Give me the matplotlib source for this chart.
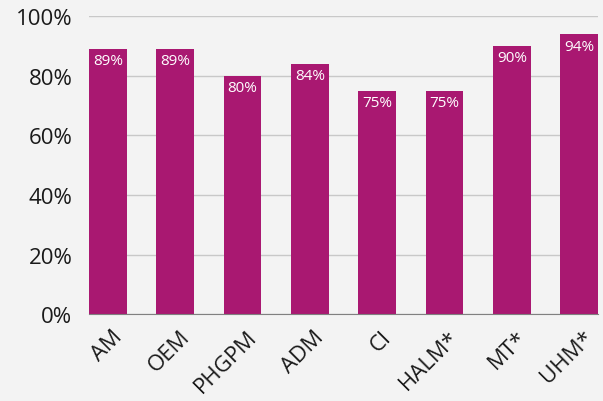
import matplotlib.pyplot as plt
from matplotlib.ticker import FuncFormatter
from matplotlib.transforms import ScaledTranslation

plt.rcParams['font.family'] = ['Open Sans', 'DejaVu Sans']

categories = ["AM", "OEM", "PHGPM", "ADM", "CI", "HALM*", "MT*", "UHM*"]
values = [89, 89, 80, 84, 75, 75, 90, 94]

bg = "#f3f3f3"
bar_color = "#a91871"

fig = plt.figure(figsize=(6.03, 4.02), dpi=100, facecolor=bg)
ax = fig.add_axes([0.1476, 0.2164, 0.8441, 0.7401], facecolor=bg)

x = range(len(categories))
bars = ax.bar(x, values, width=0.557, color=bar_color, zorder=3)

for rect, v in zip(bars, values):
    ax.annotate(f"{v}%", (rect.get_x() + rect.get_width() / 2, rect.get_height()),
                xytext=(0, -3), textcoords="offset points",
                ha="center", va="top", color="white", fontsize=11, zorder=4)

ax.set_ylim(0, 100)
ax.set_xlim(-0.2785, len(categories) - 1 + 0.2785)
ax.set_yticks(range(0, 101, 20))
ax.yaxis.set_major_formatter(FuncFormatter(lambda v, _: f"{v:.0f}%"))
ax.grid(axis="y", color="#c8c8c8", linewidth=1, zorder=0)
ax.set_xticks(list(x))
ax.set_xticklabels(categories, rotation=45, ha="right", va="center",
                   rotation_mode="anchor")
ax.tick_params(axis="both", length=0, labelsize=16, colors="#1a1a1a")
ax.tick_params(axis="x", pad=14)
ax.tick_params(axis="y", pad=12)

shift = ScaledTranslation(8 / 72, 0, fig.dpi_scale_trans)
for lbl in ax.get_xticklabels():
    lbl.set_transform(lbl.get_transform() + shift)

for side in ["top", "right", "left"]:
    ax.spines[side].set_visible(False)
ax.spines["bottom"].set_color("#808080")
ax.spines["bottom"].set_zorder(5)

fig.savefig("out.png", dpi=100, facecolor=bg)
